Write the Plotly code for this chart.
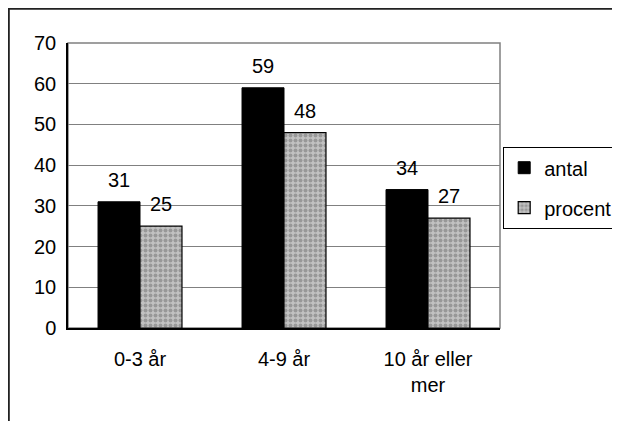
import plotly.graph_objects as go

categories = ["0-3 år", "4-9 år", "10 år eller<br>mer"]
antal = [31, 59, 34]
procent = [25, 48, 27]
series_names = ["antal", "procent"]
y_ticks = [0, 10, 20, 30, 40, 50, 60, 70]

FONT = "Liberation Sans, Arial, sans-serif"
FS = 20

W, H = 612, 413
L, T, PW, PH = 60, 35, 432, 285

fig = go.Figure()
fig.add_trace(go.Bar(
    x=categories, y=antal, name=series_names[0], legendgroup="a",
    marker=dict(color="#000000", line=dict(color="#000000", width=1)),
))
fig.add_trace(go.Bar(
    x=categories, y=procent, name=series_names[1], legendgroup="b",
    marker=dict(color="#b0b0b0", line=dict(color="#000000", width=1.2),
                pattern=dict(shape=".", fgcolor="#6e6e6e", bgcolor="#c2c2c2",
                             size=5, solidity=0.5, fillmode="overlay")),
))

# value labels above bars
for vals, shift in ((antal, -21), (procent, 21)):
    for c, v in zip(categories, vals):
        fig.add_annotation(x=c, y=v, text=str(v), showarrow=False,
                           xref="x", yref="y", xshift=shift, yshift=9,
                           yanchor="bottom", font=dict(size=FS, color="#000", family=FONT))

# plot frame (gray top/right)
fig.add_shape(type="rect", xref="paper", yref="paper", x0=0, y0=0, x1=1, y1=1,
              line=dict(color="#808080", width=1.5), layer="below")
# outer chart border (right and bottom edges fall outside the window)
fig.add_shape(type="rect", xref="paper", yref="paper",
              x0=(0.9 - L) / PW, y0=(T + PH - H - 20) / PH,
              x1=(W + 20 - L) / PW, y1=(T + PH - 0.9) / PH,
              line=dict(color="#222222", width=1.8))

fig.update_layout(
    width=W, height=H,
    margin=dict(l=L, r=W - L - PW, t=T, b=H - T - PH, autoexpand=False),
    paper_bgcolor="white", plot_bgcolor="white",
    barmode="group", bargap=0.417, bargroupgap=0,
    font=dict(family=FONT, size=FS, color="#000"),
    legend=dict(xref="container", yref="container",
                x=495 / W, y=1 - 180 / H, xanchor="left", yanchor="middle",
                bordercolor="#000", borderwidth=1.2, bgcolor="white",
                traceorder="grouped", tracegroupgap=11,
                font=dict(size=20, family=FONT),
                itemwidth=30),
    showlegend=True,
)
fig.update_yaxes(range=[0, 70], tickvals=y_ticks, showgrid=True,
                 gridcolor="#808080", gridwidth=1,
                 showline=True, linecolor="#000", linewidth=1.5,
                 ticks="", ticklabelstandoff=6, zeroline=False)
fig.update_xaxes(showline=True, linecolor="#000", linewidth=1.5, ticks="",
                 ticklabelstandoff=12)

fig.write_html("out.html")
